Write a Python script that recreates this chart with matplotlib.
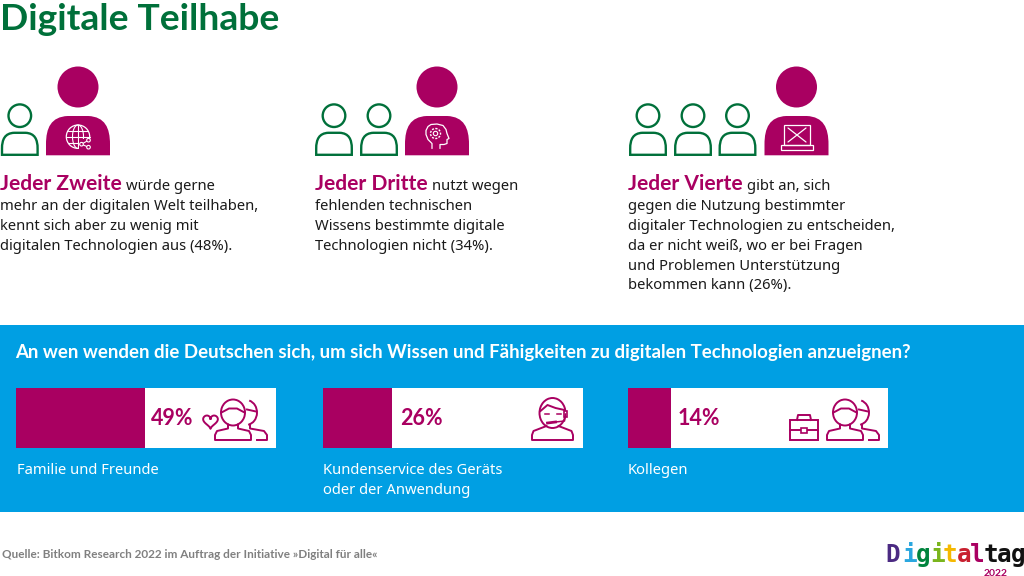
import numpy as np
import matplotlib
matplotlib.use("Agg")
import matplotlib.pyplot as plt
from matplotlib.patches import Rectangle, Circle, PathPatch, Arc
from matplotlib.path import Path

plt.rcParams['font.family'] = ['Noto Sans', 'DejaVu Sans']
BOLD = ['Lato', 'DejaVu Sans']

MAGENTA = '#a90061'
GREEN = '#00703a'
BLUE = '#009fe3'
GREY = '#808080'

title = 'Digitale Teilhabe'
leads = ['Jeder Zweite', 'Jeder Dritte', 'Jeder Vierte']
first_tails = ['würde gerne', 'nutzt wegen', 'gibt an, sich']
bodies = [
    ['mehr an der digitalen Welt teilhaben,', 'kennt sich aber zu wenig mit',
     'digitalen Technologien aus (48%).'],
    ['fehlenden technischen', 'Wissens bestimmte digitale', 'Technologien nicht (34%).'],
    ['gegen die Nutzung bestimmter', 'digitaler Technologien zu entscheiden,',
     'da er nicht weiß, wo er bei Fragen', 'und Problemen Unterstützung',
     'bekommen kann (26%).'],
]
question = 'An wen wenden die Deutschen sich, um sich Wissen und Fähigkeiten zu digitalen Technologien anzueignen?'
bar_labels = [['Familie und Freunde'], ['Kundenservice des Geräts', 'oder der Anwendung'], ['Kollegen']]
pct_labels = ['49%', '26%', '14%']
bar_fill = [49.5, 26.5, 16.5]
source = 'Quelle: Bitkom Research 2022 im Auftrag der Initiative »Digital für alle«'
logo_letters = list('Digitaltag')
logo_colors = ['#4b2a82', '#2aa7df', '#00843d', '#7ab51d', '#f5b800', '#c8202f', MAGENTA, '#111111', '#111111', '#111111']
logo_year = '2022'

W, H = 1024, 576
fig = plt.figure(figsize=(W / 100, H / 100), dpi=100, facecolor='white')
ax = fig.add_axes([0, 0, 1, 1])
ax.set_xlim(0, W)
ax.set_ylim(H, 0)
ax.axis('off')


def body_path(l, r, t, b):
    w = r - l
    h = b - t
    v = [(l, b), (l, t + h * .72), (l, t + h * .30), (l + w * .08, t + h * .02), (l + w * .34, t),
         (r - w * .34, t), (r - w * .08, t + h * .02), (r, t + h * .30), (r, t + h * .72), (r, b), (l, b)]
    c = [Path.MOVETO, Path.LINETO, Path.CURVE4, Path.CURVE4, Path.CURVE4, Path.LINETO,
         Path.CURVE4, Path.CURVE4, Path.CURVE4, Path.LINETO, Path.CLOSEPOLY]
    return Path(v, c)


def small_person(cx):
    ax.add_patch(Circle((cx, 115.7), 11.3, fc='none', ec=GREEN, lw=1.7))
    ax.add_patch(PathPatch(body_path(cx - 17.8, cx + 17.8, 132.8, 154.8), fc='none', ec=GREEN, lw=1.7))


def big_person(cx):
    ax.add_patch(Circle((cx, 87), 20.5, fc=MAGENTA, ec='none'))
    ax.add_patch(PathPatch(body_path(cx - 32, cx + 32, 116, 155.3), fc=MAGENTA, ec='none'))


def line(xs, ys, color='white', lw=0.9):
    ax.plot(xs, ys, color=color, lw=lw, solid_capstyle='round', solid_joinstyle='round')


def globe_icon(cx, cy):
    ax.add_patch(Circle((cx, cy), 11.7, fc='none', ec='white', lw=.9))
    ax.add_patch(Arc((cx, cy), 11, 23.4, fc='none', ec='white', lw=.8))
    line([cx, cx], [cy - 11.7, cy + 11.7], lw=.8)
    for dy, hw in [(-6, 9.8), (0, 11.7), (6, 9.8)]:
        line([cx - hw, cx + hw], [cy + dy, cy + dy], lw=.8)
    ax.add_patch(Rectangle((cx + 1, cy + 2), 12, 10, fc=MAGENTA, ec='none', zorder=3))
    pts = [(cx + 3.5, cy + 7.5), (cx + 10.5, cy + 3.5), (cx + 10.5, cy + 10.5)]
    line([pts[1][0], pts[0][0], pts[2][0]], [pts[1][1], pts[0][1], pts[2][1]], lw=.8)
    ax.lines[-1].set_zorder(4)
    for p in pts:
        ax.add_patch(Circle(p, 1.8, fc=MAGENTA, ec='white', lw=.8, zorder=5))


def head_icon(cx, cy):
    xs = [-4, -4, -8, -10, -10, -8, -5, 1, 7, 10, 11, 13, 11, 11, 8, 4, 4]
    ys = [12, 7, 3, -2, -6, -10, -12, -12.5, -11, -7, -3, 2, 3, 7, 8, 8, 12]
    line([cx + x for x in xs], [cy + y for y in ys], lw=.9)
    gx, gy = cx - 0.5, cy - 3
    ax.add_patch(Circle((gx, gy), 2.2, fc='none', ec='white', lw=.8))
    ax.add_patch(Circle((gx, gy), 5, fc='none', ec='white', lw=1.0, ls=(0, (1.5, 1))))


def laptop_icon(cx, cy):
    ax.add_patch(Rectangle((cx - 13, cy - 11), 26, 20, fc='none', ec='white', lw=.9))
    line([cx - 9, cx + 9], [cy - 8, cy + 6], lw=.9)
    line([cx - 9, cx + 9], [cy + 6, cy - 8], lw=.9)
    ax.add_patch(Rectangle((cx - 16, cy + 9), 32, 4.5, fc='none', ec='white', lw=.9))


def bust(cx, top, bottom, half, color=MAGENTA, lw=1.4):
    ax.add_patch(Arc((cx, top + 12), 24, 26, fc='none', ec=color, lw=lw))
    ax.plot([cx - 11.5, cx - 4, cx + 4, cx + 11.5], [top + 12, top + 8, top + 8, top + 12], color=color, lw=lw)
    xs = [cx - 5, cx - 5, cx - half + 2, cx - half, cx - half, cx + half, cx + half, cx + half - 2, cx + 5, cx + 5]
    ys = [top + 24, top + 28, bottom - 9, bottom - 5, bottom, bottom, bottom - 5, bottom - 9, top + 28, top + 24]
    ax.plot(xs, ys, color=color, lw=lw, solid_joinstyle='round')


def back_person(cx, top, bottom):
    ax.add_patch(Arc((cx + 1, top + 12), 22, 25, theta1=-75, theta2=80, fc='none', ec=MAGENTA, lw=1.4))
    ax.plot([cx + 2, cx + 11], [top + 9, top + 11], color=MAGENTA, lw=1.4)
    ax.plot([cx + 5, cx + 5, cx + 19, cx + 22, cx + 22, cx + 12],
            [top + 24, top + 28, bottom - 9, bottom - 5, bottom, bottom], color=MAGENTA, lw=1.4)


def heart(cx, cy):
    t = np.linspace(0, 2 * np.pi, 60)
    ax.plot(cx + 0.46 * 16 * np.sin(t) ** 3,
            cy - 0.46 * (13 * np.cos(t) - 5 * np.cos(2 * t) - 2 * np.cos(3 * t) - np.cos(4 * t)),
            color=MAGENTA, lw=1.4)


def headset_icon(cx):
    ax.add_patch(Arc((cx, 413), 26, 30, fc='none', ec=MAGENTA, lw=1.4))
    ax.plot([cx - 12, cx - 5, cx + 3, cx + 12], [411, 405, 408, 410], color=MAGENTA, lw=1.4)
    ax.plot([cx - 8, cx - 4], [414, 414], color=MAGENTA, lw=1.1)
    ax.plot([cx + 4, cx + 8], [414, 414], color=MAGENTA, lw=1.1)
    ax.plot([cx - 5, cx + 3], [423, 422], color=MAGENTA, lw=2)
    ax.plot([cx + 3, cx + 12, cx + 13], [422, 421, 414], color=MAGENTA, lw=1.1)
    ax.add_patch(Rectangle((cx + 11, 411), 3.5, 6, fc='white', ec=MAGENTA, lw=1.2))
    ax.plot([cx - 6, cx - 19, cx - 20.5, cx - 20.5, cx + 20.5, cx + 20.5, cx + 19, cx + 6],
            [426, 431, 435, 440, 440, 435, 431, 426], color=MAGENTA, lw=1.4, solid_joinstyle='round')


def briefcase(l, r, t, b):
    ax.add_patch(Rectangle((l, t + 5), r - l, b - t - 5, fc='none', ec=MAGENTA, lw=1.4))
    ax.plot([l, r], [t + 15, t + 15], color=MAGENTA, lw=1.4)
    mid = (l + r) / 2
    ax.plot([mid - 7, mid - 6, mid + 6, mid + 7], [t + 5, t, t, t + 5], color=MAGENTA, lw=1.4)
    ax.add_patch(Rectangle((mid - 3, t + 12.5), 6, 5, fc='white', ec=MAGENTA, lw=1.2, zorder=3))


# title
ax.text(0, 30, title, color=GREEN, fontsize=26.8, fontweight='bold', family=BOLD, va='baseline', ha='left')

# persons
for cx in [19.8, 334, 379, 648, 693, 737.5]:
    small_person(cx)
for cx in [78, 437, 796.5]:
    big_person(cx)
globe_icon(78, 136.7)
head_icon(436, 136.5)
laptop_icon(797, 136)

# text columns
renderer = fig.canvas.get_renderer()
col_x = [0, 315, 628]
for x0, lead, tail, lines in zip(col_x, leads, first_tails, bodies):
    t = ax.text(x0, 189.5, lead, color=MAGENTA, fontsize=15.1, fontweight='bold', family=BOLD, va='baseline')
    ext = t.get_window_extent(renderer)
    ax.text(ext.x1 + 4, 189.5, tail, color='#1a1a1a', fontsize=10.65, va='baseline')
    for i, s in enumerate(lines):
        ax.text(x0, 209.5 + 20 * i, s, color='#1a1a1a', fontsize=10.65, va='baseline')

# blue panel
ax.add_patch(Rectangle((0, 325), W, 187, fc=BLUE, ec='none'))
ax.text(15.5, 358, question, color='white', fontsize=13.45, fontweight='bold', family=BOLD, va='baseline')

# bars
bar_x = [16, 323, 628]
bar_w = 260
bar_top, bar_h = 388, 60
pct_x = [151, 400, 678]
for x0, fill, pct, lab in zip(bar_x, bar_fill, pct_labels, bar_labels):
    bax = fig.add_axes([x0 / W, 1 - (bar_top + bar_h) / H, bar_w / W, bar_h / H], zorder=0.5)
    bax.set_xlim(0, 100)
    bax.set_ylim(-0.5, 0.5)
    bax.set_facecolor('white')
    bax.set_xticks([])
    bax.set_yticks([])
    for sp in bax.spines.values():
        sp.set_visible(False)
    bax.barh([0], [fill], height=1, color=MAGENTA)
    for i, s in enumerate(lab):
        ax.text(x0 + (1 if x0 == 16 else 0), 474.5 + 20 * i, s, color='white', fontsize=10.65, va='baseline')

# overlay on top of the bars
ov = fig.add_axes([0, 0, 1, 1], zorder=2)
ov.set_xlim(0, W)
ov.set_ylim(H, 0)
ov.axis('off')
ov.patch.set_alpha(0)
ax = ov
for x, pct in zip(pct_x, pct_labels):
    ax.text(x, 425, pct, color=MAGENTA, fontsize=15.5, fontweight='bold', family=BOLD, va='baseline')

heart(210.5, 421)
bust(233, 400.5, 440, 18)
back_person(245, 400.5, 440)
headset_icon(552.5)
briefcase(790, 818, 415, 440)
bust(845, 400.5, 440, 18)
back_person(857, 400.5, 440)

# footer
ax.text(2, 558.5, source, color=GREY, fontsize=8.5, fontweight='bold', family=BOLD, va='baseline')

# logo
logo_x = [885, 902, 916, 930, 943, 957, 970, 984, 997, 1011]
for x, ch, col in zip(logo_x, logo_letters, logo_colors):
    ax.text(x, 562, ch, color=col, fontsize=17.5, fontweight='bold', family='DejaVu Sans Mono', va='baseline')
ax.text(996, 575.5, logo_year, color=MAGENTA, fontsize=7.5, fontweight='bold', family=BOLD, ha='center', va='baseline')

fig.savefig('out.png', dpi=100, facecolor='white')
